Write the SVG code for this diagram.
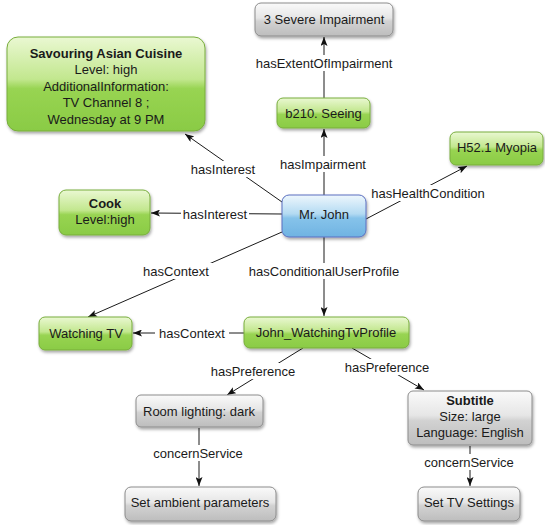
<svg xmlns="http://www.w3.org/2000/svg" width="545" height="525" viewBox="0 0 545 525">
<defs>
<linearGradient id="gGreen" x1="0" y1="0" x2="0" y2="1">
<stop offset="0" stop-color="#eaf8d2"/>
<stop offset="0.45" stop-color="#c2e78e"/>
<stop offset="0.55" stop-color="#98d452"/>
<stop offset="1" stop-color="#8acb45"/>
</linearGradient>
<linearGradient id="gGray" x1="0" y1="0" x2="0" y2="1">
<stop offset="0" stop-color="#fafafa"/>
<stop offset="0.45" stop-color="#e6e6e6"/>
<stop offset="0.55" stop-color="#d2d2d2"/>
<stop offset="1" stop-color="#bdbdbd"/>
</linearGradient>
<linearGradient id="gBlue" x1="0" y1="0" x2="0" y2="1">
<stop offset="0" stop-color="#eef7fd"/>
<stop offset="0.45" stop-color="#b3daf2"/>
<stop offset="0.55" stop-color="#86c3ea"/>
<stop offset="1" stop-color="#6fb3e2"/>
</linearGradient>
<filter id="sh" x="-10%" y="-10%" width="130%" height="140%">
<feDropShadow dx="1" dy="2" stdDeviation="1.5" flood-color="#000" flood-opacity="0.35"/>
</filter>
<marker id="arr" markerWidth="9" markerHeight="7" refX="9" refY="3.5" orient="auto" markerUnits="userSpaceOnUse">
<path d="M0,0 L9,3.5 L0,7 L2,3.5 z" fill="#111"/>
</marker>
</defs>
<style>
text{font-family:"Liberation Sans",Arial,sans-serif;font-size:13px;fill:#1a1a1a;text-anchor:middle}
.b{font-weight:bold}
.green{fill:url(#gGreen);stroke:#78ad3c;stroke-width:1;filter:url(#sh)}
.gray{fill:url(#gGray);stroke:#8c8c8c;stroke-width:1;filter:url(#sh)}
.blue{fill:url(#gBlue);stroke:#5a6fc0;stroke-width:1;filter:url(#sh)}
.edge{stroke:#1a1a1a;stroke-width:1;fill:none;marker-end:url(#arr)}
.lbg{fill:#fff}
</style>
<rect width="545" height="525" fill="#fff"/>
<g id="connectors">
<line class="edge" x1="324" y1="98" x2="324" y2="37"/>
<line class="edge" x1="324" y1="195" x2="324" y2="129"/>
<line class="edge" x1="282" y1="202" x2="185" y2="134"/>
<line class="edge" x1="282" y1="214" x2="151" y2="213"/>
<line class="edge" x1="366" y1="219" x2="467" y2="166"/>
<line class="edge" x1="282" y1="232" x2="88" y2="317"/>
<line class="edge" x1="324" y1="237" x2="324" y2="316"/>
<line class="edge" x1="244" y1="333" x2="133" y2="333"/>
<line class="edge" x1="303" y1="348" x2="227" y2="395"/>
<line class="edge" x1="352" y1="348" x2="424" y2="390"/>
<line class="edge" x1="199" y1="428" x2="199" y2="486"/>
<line class="edge" x1="470" y1="446" x2="470" y2="486"/>
<rect class="lbg" x="254" y="55" width="140" height="16"/>
<text x="324" y="67.5">hasExtentOfImpairment</text>
<rect class="lbg" x="277" y="156" width="92" height="16"/>
<text x="323" y="168.5">hasImpairment</text>
<rect class="lbg" x="188" y="161" width="70" height="16"/>
<text x="223" y="173.5">hasInterest</text>
<rect class="lbg" x="181" y="206" width="68" height="16"/>
<text x="215" y="218.5">hasInterest</text>
<rect class="lbg" x="368" y="185" width="120" height="16"/>
<text x="428" y="197.5">hasHealthCondition</text>
<rect class="lbg" x="141" y="263" width="71" height="16"/>
<text x="176" y="275.5">hasContext</text>
<rect class="lbg" x="246" y="263" width="157" height="16"/>
<text x="324" y="275.5">hasConditionalUserProfile</text>
<rect class="lbg" x="155" y="325" width="74" height="16"/>
<text x="192" y="337.5">hasContext</text>
<rect class="lbg" x="207" y="363" width="92" height="16"/>
<text x="253" y="375.5">hasPreference</text>
<rect class="lbg" x="341" y="359" width="92" height="16"/>
<text x="387" y="371.5">hasPreference</text>
<rect class="lbg" x="150" y="445" width="97" height="16"/>
<text x="198" y="457.5">concernService</text>
<rect class="lbg" x="421" y="454" width="97" height="16"/>
<text x="469" y="466.5">concernService</text>
</g>
<g id="savouring">
<rect class="green" x="7" y="37" width="198" height="94" rx="11"/>
<text class="b" x="106" y="57.5">Savouring Asian Cuisine</text>
<text x="106" y="74">Level: high</text>
<text x="106" y="90.5">AdditionalInformation:</text>
<text x="106" y="107">TV Channel 8 ;</text>
<text x="106" y="123.5">Wednesday at 9 PM</text>
</g>
<g id="severe">
<rect class="gray" x="255" y="3" width="138" height="33" rx="6"/>
<text x="324" y="23.5">3 Severe Impairment</text>
</g>
<g id="b210">
<rect class="green" x="277" y="98" width="93" height="30" rx="6"/>
<text x="323.5" y="117.5">b210. Seeing</text>
</g>
<g id="mrjohn">
<rect class="blue" x="282" y="195" width="84" height="42" rx="7"/>
<text x="324" y="219">Mr. John</text>
</g>
<g id="myopia">
<rect class="green" x="450" y="132" width="93" height="33" rx="6"/>
<text x="497" y="152">H52.1 Myopia</text>
</g>
<g id="cook">
<rect class="green" x="59" y="190" width="91" height="45" rx="7"/>
<text class="b" x="105" y="207.5">Cook</text>
<text x="105" y="223.5">Level:high</text>
</g>
<g id="watchingtv">
<rect class="green" x="39" y="317" width="93" height="33" rx="6"/>
<text x="86" y="338">Watching TV</text>
</g>
<g id="johnwatchingtvprofile">
<rect class="green" x="244" y="317" width="165" height="31" rx="6"/>
<text x="326" y="336.5">John_WatchingTvProfile</text>
</g>
<g id="roomlighting">
<rect class="gray" x="136" y="395" width="127" height="32" rx="5"/>
<text x="199" y="415.5">Room lighting: dark</text>
</g>
<g id="subtitle">
<rect class="gray" x="408" y="391" width="124" height="54" rx="5"/>
<text class="b" x="470" y="405">Subtitle</text>
<text x="470" y="421">Size: large</text>
<text x="470" y="437">Language: English</text>
</g>
<g id="ambient">
<rect class="gray" x="125" y="487" width="151" height="34" rx="6"/>
<text x="200" y="506.5">Set ambient parameters</text>
</g>
<g id="tvsettings">
<rect class="gray" x="418" y="487" width="102" height="34" rx="6"/>
<text x="469" y="506.5">Set TV Settings</text>
</g>
</svg>
